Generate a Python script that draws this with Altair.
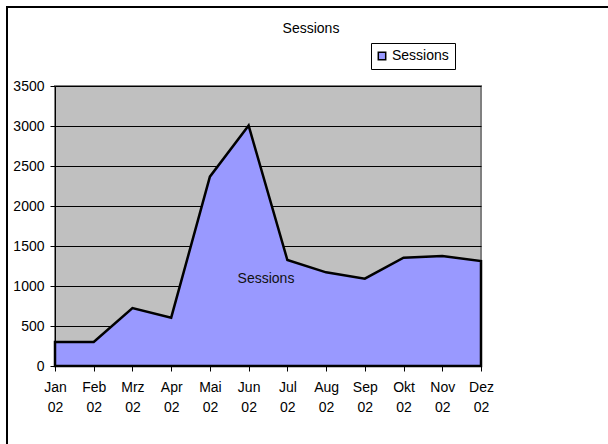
import altair as alt
import pandas as pd

months = ["Jan 02", "Feb 02", "Mrz 02", "Apr 02", "Mai 02", "Jun 02",
          "Jul 02", "Aug 02", "Sep 02", "Okt 02", "Nov 02", "Dez 02"]
sessions = [300, 300, 725, 604, 2367, 3005, 1325, 1171, 1092, 1354, 1375, 1312]
series_name = "Sessions"
y_ticks = [0, 500, 1000, 1500, 2000, 2500, 3000, 3500]

df = pd.DataFrame({"month": months, "value": sessions, "series": series_name})

FONT = "Liberation Sans"
FS = 14

x_enc = alt.X("month:O", sort=months, title=None,
              scale=alt.Scale(type="point", padding=0),
              axis=alt.Axis(labelExpr="split(datum.label, ' ')", labelAngle=0,
                            labelLineHeight=20, labelPadding=9, tickSize=5,
                            labelBaseline="top", grid=False))
y_enc = alt.Y("value:Q", title=None,
              scale=alt.Scale(domain=[0, 3500], nice=False),
              axis=alt.Axis(values=y_ticks, format="d", tickSize=5, labelPadding=6,
                            grid=True, gridColor="black", gridWidth=1, gridOpacity=1))

area = alt.Chart(df).mark_area(stroke="black", strokeWidth=2.5, opacity=1).encode(
    x=x_enc, y=y_enc,
    color=alt.Color("series:N", title=None,
                    scale=alt.Scale(range=["#9999FF"]),
                    legend=alt.Legend(orient="none", legendX=316, legendY=-43,
                                      symbolType="square", symbolSize=55,
                                      symbolStrokeColor="black", symbolStrokeWidth=1.5,
                                      symbolFillColor="#9999FF", symbolOffset=-2,
                                      labelOffset=3,
                                      strokeColor="black", padding=6,
                                      labelFont=FONT, labelFontSize=FS,
                                      labelColor="black", fillColor="white")),
)

inner_label = alt.Chart(pd.DataFrame({"t": [series_name]})).mark_text(
    font=FONT, fontSize=FS, color="#111111").encode(
    text="t:N", x=alt.value(211), y=alt.value(193))

title_text = alt.Chart(pd.DataFrame({"t": [series_name]})).mark_text(
    font=FONT, fontSize=FS, color="black").encode(
    text="t:N", x=alt.value(256), y=alt.value(-57))

frame = alt.Chart(pd.DataFrame({"t": [0]})).mark_rect(
    fill=None, stroke="black", strokeWidth=2).encode(
    x=alt.value(-48), y=alt.value(-79), x2=alt.value(600), y2=alt.value(420))

chart = alt.layer(area, inner_label, title_text, frame).properties(
    width=426, height=280,
    padding={"left": 55, "top": 86, "right": 127, "bottom": 78},
    autosize=alt.AutoSizeParams(type="none"),
    background="white",
).configure_view(
    fill="#C0C0C0", stroke="#808080", strokeWidth=2
).configure_axis(
    labelFont=FONT, labelFontSize=FS, labelColor="black",
    domainColor="black", tickColor="black", domainWidth=1, tickWidth=1
)

chart.save("out.html", embed_options={"renderer": "svg", "actions": False})
